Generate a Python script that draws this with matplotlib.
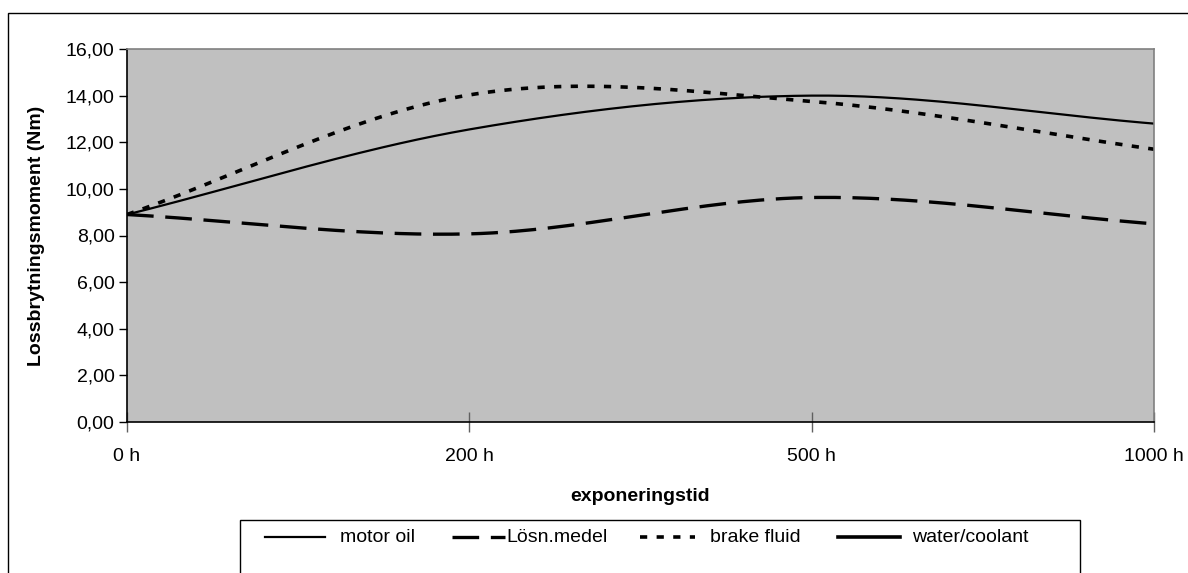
import numpy as np
import matplotlib.pyplot as plt
from matplotlib.patches import Rectangle
from matplotlib.lines import Line2D

plt.rcParams['font.family'] = ['Liberation Sans', 'DejaVu Sans']

# data
categories = ['0 h', '200 h', '500 h', '1000 h']
motor_oil = [8.9, 12.55, 14.0, 12.8]
losn_medel = [8.9, 8.07, 9.63, 8.5]
brake_fluid = [8.9, 14.03, 13.75, 11.7]
water_coolant = [np.nan, np.nan, np.nan, np.nan]  # in legend, no visible line
series_names = ['motor oil', 'Lösn.medel', 'brake fluid', 'water/coolant']
y_ticks = [0, 2, 4, 6, 8, 10, 12, 14, 16]

FS = 14
W, H = 1188, 573


def smooth(values, n=60):
    # Catmull-Rom style smoothing, like the "smoothed line" option
    y = np.asarray(values, dtype=float)
    x = np.arange(len(y), dtype=float)
    xs, ys = [], []
    for i in range(len(y) - 1):
        y0 = y[i - 1] if i > 0 else y[i]
        y3 = y[i + 2] if i + 2 < len(y) else y[i + 1]
        m1 = (y[i + 1] - y0) / (2 if i > 0 else 1)
        m2 = (y3 - y[i]) / (2 if i + 2 < len(y) else 1)
        t = np.linspace(0, 1, n)
        h00 = 2 * t**3 - 3 * t**2 + 1
        h10 = t**3 - 2 * t**2 + t
        h01 = -2 * t**3 + 3 * t**2
        h11 = t**3 - t**2
        xs.append(x[i] + t)
        ys.append(h00 * y[i] + h10 * m1 + h01 * y[i + 1] + h11 * m2)
    return np.concatenate(xs), np.concatenate(ys)


styles = [
    dict(color='black', lw=1.6),
    dict(color='black', lw=2.4, dashes=(8, 3.5)),
    dict(color='black', lw=2.6, dashes=(2, 2.6)),
    dict(color='black', lw=2.6),
]

fig = plt.figure(figsize=(W / 100, H / 100), dpi=100)
ax = fig.add_axes([127 / W, 1 - 422 / H, 1027 / W, 373 / H])
ax.set_facecolor('#c0c0c0')

for vals, st in zip([motor_oil, losn_medel, brake_fluid], styles):
    x, y = smooth(vals)
    ax.plot(x, y, **st)
ax.plot(range(len(categories)), water_coolant, **styles[3])

ax.set_xlim(0, len(categories) - 1)
ax.set_ylim(0, 16)
ax.set_xticks(range(len(categories)))
ax.set_xticklabels(categories)
ax.set_yticks(y_ticks)
ax.set_yticklabels([('%.2f' % v).replace('.', ',') for v in y_ticks])

for side in ['top', 'right']:
    ax.spines[side].set_color('#808080')
    ax.spines[side].set_linewidth(1.2)
for side in ['left', 'bottom']:
    ax.spines[side].set_color('black')
    ax.spines[side].set_linewidth(1.2)

ax.tick_params(axis='y', direction='out', length=6, width=1, pad=3, labelsize=FS)
ax.tick_params(axis='x', direction='inout', length=14, width=1, color='#606060',
               pad=12, labelsize=FS)

ax.set_ylabel('Lossbrytningsmoment (Nm)', fontsize=FS, fontweight='bold', labelpad=15)
ax.set_xlabel('exponeringstid', fontsize=FS, fontweight='bold', labelpad=16)

# outer chart border (runs off the bottom and right of the image)
fig.patches.append(Rectangle((8 / W, -0.1), 1.2, 1 - 13 / H + 0.1,
                             transform=fig.transFigure, fill=False,
                             edgecolor='black', lw=1))
# legend box (also cut off at the bottom)
fig.patches.append(Rectangle((240 / W, -0.1), 840 / W, 1 - 520 / H + 0.1,
                             transform=fig.transFigure, fill=False,
                             edgecolor='black', lw=1))

# legend entries: handle start/end and text start, in pixels
handle_x = [(265, 325), (452, 505), (640, 695), (838, 900)]
text_x = [340, 506, 710, 912]
ly = 1 - 537 / H
for name, st, (x0, x1), tx in zip(series_names, styles, handle_x, text_x):
    fig.lines.append(Line2D([x0 / W, x1 / W], [ly, ly], transform=fig.transFigure, **st))
    fig.text(tx / W, ly, name, fontsize=FS, va='center', ha='left')

fig.savefig('out.png', dpi=100)
